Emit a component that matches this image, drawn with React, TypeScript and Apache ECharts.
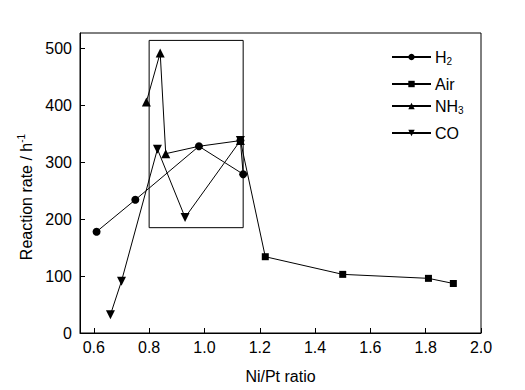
import React, { useEffect, useRef } from "react";
import * as echarts from "echarts";

const seriesNames = ["H2", "Air", "NH3", "CO"];
const legendLabels = ["{a|H}{s|2}", "{a|Air}", "{a|NH}{s|3}", "{a|CO}"];

const h2Data: [number, number][] = [
  [0.61, 178],
  [0.75, 234],
  [0.98, 328],
  [1.14, 279],
  [1.13, 338],
];
const airData: [number, number][] = [
  [1.13, 338],
  [1.22, 134],
  [1.5, 103],
  [1.81, 96],
  [1.9, 87],
];
const nh3Data: [number, number][] = [
  [0.79, 406],
  [0.84, 492],
  [0.86, 315],
  [0.98, 328],
  [1.13, 338],
];
const coData: [number, number][] = [
  [0.66, 32],
  [0.7, 91],
  [0.83, 323],
  [0.93, 203],
  [1.13, 338],
];

const xTicks = [0.6, 0.8, 1.0, 1.2, 1.4, 1.6, 1.8, 2.0];
const yTicks = [0, 100, 200, 300, 400, 500];
const boxCorners: [number, number][] = [
  [0.8, 514],
  [1.14, 185],
];

const FONT = "Liberation Sans";

export default function App() {
  const ref = useRef<HTMLDivElement>(null);
  useEffect(() => {
    if (!ref.current) return;
    const chart = echarts.init(ref.current, undefined, { renderer: "svg" });
    const common = {
      type: "line",
      color: "#000",
      lineStyle: { color: "#000", width: 1 },
      itemStyle: { color: "#000" },
      showSymbol: true,
    };
    const option: any = {
      animation: false,
      backgroundColor: "#fff",
      textStyle: { fontFamily: FONT, color: "#000" },
      grid: {
        left: 80,
        right: 44,
        top: 33,
        bottom: 57,
        show: true,
        borderColor: "#000",
        borderWidth: 1,
      },
      legend: seriesNames.map((n, i) => ({
        data: [n],
        orient: "vertical",
        left: 391,
        top: [49, 76, 98, 125][i],
        itemWidth: 39,
        itemHeight: 8,
        itemGap: 0,
        padding: 0,
        formatter: () => legendLabels[i],
        textStyle: {
          fontFamily: FONT,
          color: "#000",
          padding: [0, 0, 0, -1],
          rich: {
            a: { fontSize: 16, fontFamily: FONT, color: "#000", lineHeight: 18 },
            s: {
              fontSize: 10,
              fontFamily: FONT,
              color: "#000",
              lineHeight: 10,
              verticalAlign: "bottom",
            },
          },
        },
      })),
      xAxis: {
        type: "value",
        min: 0.55,
        max: 2.0,
        name: "Ni/Pt ratio",
        nameLocation: "middle",
        nameGap: 35,
        nameTextStyle: { fontSize: 16, fontFamily: FONT, color: "#000" },
        axisLine: { show: true, lineStyle: { color: "#000", width: 1 } },
        axisTick: {
          show: true,
          inside: true,
          length: 5,
          customValues: xTicks,
          lineStyle: { color: "#000" },
        },
        axisLabel: {
          customValues: xTicks,
          fontSize: 16,
          fontFamily: FONT,
          color: "#000",
          margin: 6,
          formatter: (v: number) => v.toFixed(1),
        },
        splitLine: { show: false },
      },
      yAxis: {
        type: "value",
        min: 0,
        max: 527,
        name: "{a|Reaction rate / h}{b|-1}",
        nameLocation: "middle",
        nameGap: 44,
        nameTextStyle: {
          fontSize: 16,
          fontFamily: FONT,
          color: "#000",
          padding: [0, 28, 0, 0],
          rich: {
            a: { fontSize: 16, fontFamily: FONT, color: "#000", lineHeight: 20 },
            b: {
              fontSize: 10,
              fontFamily: FONT,
              color: "#000",
              lineHeight: 10,
              verticalAlign: "top",
            },
          },
        },
        axisLine: { show: true, lineStyle: { color: "#000", width: 1 } },
        axisTick: {
          show: true,
          inside: true,
          length: 5,
          customValues: yTicks,
          lineStyle: { color: "#000" },
        },
        axisLabel: {
          customValues: yTicks,
          fontSize: 16,
          fontFamily: FONT,
          color: "#000",
          margin: 8,
        },
        splitLine: { show: false },
      },
      series: [
        {
          ...common,
          name: "H2",
          data: h2Data,
          symbol: "circle",
          symbolSize: 8,
          z: 5,
        },
        {
          ...common,
          name: "Air",
          data: airData.map((d, i) =>
            i === 0 ? { value: d, symbol: "none" } : { value: d }
          ),
          symbol: "rect",
          symbolSize: 7,
          z: 4,
          markArea: {
            silent: true,
            itemStyle: {
              color: "rgba(0,0,0,0)",
              borderColor: "#000",
              borderWidth: 1,
            },
            data: [[{ coord: boxCorners[0] }, { coord: boxCorners[1] }]],
          },
        },
        {
          ...common,
          name: "NH3",
          data: nh3Data.map((d) =>
            d[0] === 0.98 ? { value: d, symbol: "none" } : { value: d }
          ),
          symbol: "triangle",
          symbolSize: 9,
          z: 3,
        },
        {
          ...common,
          name: "CO",
          data: coData,
          symbol: "triangle",
          symbolRotate: 180,
          symbolSize: 9,
          z: 3,
        },
      ],
    };
    chart.setOption(option);
    return () => chart.dispose();
  }, []);
  return (
    <div
      ref={ref}
      style={{ position: "fixed", left: 0, top: 0, width: 525, height: 390 }}
    />
  );
}
